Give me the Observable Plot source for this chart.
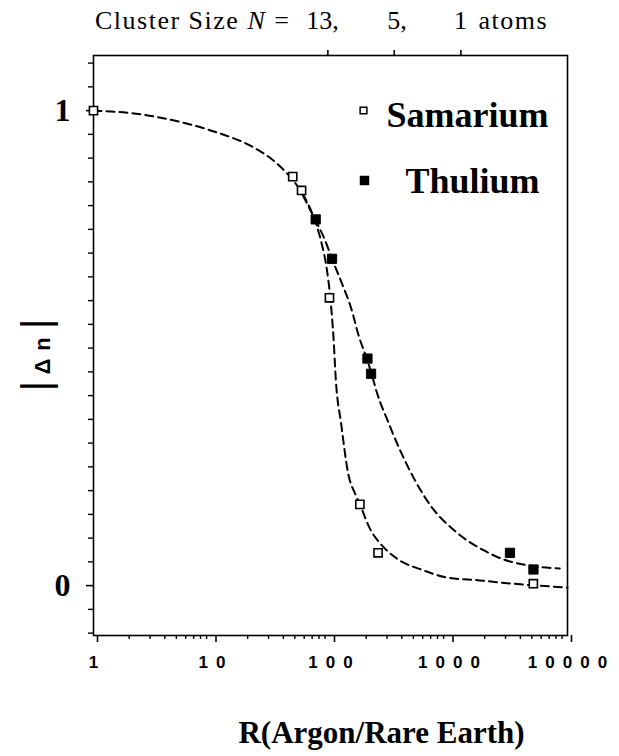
<!DOCTYPE html>
<html><head><meta charset="utf-8">
<script src="https://cdn.jsdelivr.net/npm/d3@7"></script>
<script src="https://cdn.jsdelivr.net/npm/@observablehq/plot@0.6"></script>
<style>
body{margin:0;background:#fff;}
#chart svg g[aria-label="x-axis tick label"] text{letter-spacing:8px;}
</style></head><body><div id="chart"></div>
<script>
// ---- data ----
const seriesNames = ["Samarium", "Thulium"];
const smR  = [1, 48, 57, 98, 177, 252, 5150];
const smDn = [1.0, 0.861, 0.832, 0.606, 0.171, 0.069, 0.004];
const tmR  = [75, 103, 205, 220, 3270, 5160];
const tmDn = [0.771, 0.688, 0.478, 0.446, 0.069, 0.034];
// dashed guide curves
const smFitR  = [1, 2.2, 4.8, 10.4, 22.6, 33, 42.5, 53, 64.5, 75, 85, 93, 99.6, 106, 111, 123, 141, 161, 177, 213, 283, 363, 611, 955, 1810, 3500, 10000];
const smFitDn = [1.0, 0.994, 0.979, 0.956, 0.922, 0.895, 0.869, 0.840, 0.804, 0.764, 0.716, 0.667, 0.606, 0.522, 0.432, 0.341, 0.236, 0.194, 0.171, 0.122, 0.080, 0.057, 0.032, 0.017, 0.011, 0.004, -0.004];
const tmFitR  = [58.7, 75, 88.6, 103, 124, 149, 173, 205, 260, 296, 377, 518, 701, 1109, 1974, 2900, 4800, 8600];
const tmFitDn = [0.821, 0.768, 0.731, 0.688, 0.638, 0.585, 0.526, 0.474, 0.389, 0.354, 0.291, 0.221, 0.168, 0.116, 0.074, 0.055, 0.042, 0.036];
// axes
const xMajorTicks = [1, 10, 100, 1000, 10000];
const xMinorTicks = [2,3,4,5,6,7,8,9, 20,30,40,50,60,70,80,90, 200,300,400,500,600,700,800,900, 2000,3000,4000,5000,6000,7000,8000,9000];
const yMajorTicks = [0, 1];
const yMinorTicks = [-0.1,-0.05,0.05,0.1,0.15,0.2,0.25,0.3,0.35,0.4,0.45,0.5,0.55,0.6,0.65,0.7,0.75,0.8,0.85,0.9,0.95,1.05,1.1];
const clusterR = [95, 345, 1260];
const clusterLabels = ["13,", "5,", "1"];
const clusterUnit = "atoms";
const xTitle = "R(Argon/Rare Earth)";

const smPts = smR.map((r, i) => ({r, dn: smDn[i]}));
const tmPts = tmR.map((r, i) => ({r, dn: tmDn[i]}));
const smFit = smFitR.map((r, i) => ({r, dn: smFitDn[i]}));
const tmFit = tmFitR.map((r, i) => ({r, dn: tmFitDn[i]}));

const serif = "Liberation Serif, Times New Roman, serif";
const sans = "Liberation Sans, Arial, sans-serif";

const plot = Plot.plot({
  width: 619, height: 756,
  marginLeft: 93, marginRight: 52, marginTop: 55, marginBottom: 121,
  style: {background: "white", color: "black", overflow: "visible"},
  x: {type: "log", domain: [1, 10000], label: null},
  y: {domain: [-0.105, 1.116], label: null},
  marks: [
    Plot.frame({stroke: "black", strokeWidth: 1.6}),
    Plot.axisX({anchor: "bottom", ticks: xMinorTicks, tickSize: 4, tickFormat: () => "", strokeWidth: 1.4, label: null}),
    Plot.axisX({anchor: "bottom", ticks: xMajorTicks, tickSize: 7, tickPadding: 13, tickFormat: d => String(d),
      fontSize: 17, fontWeight: "bold", fontFamily: sans, dx: 4, strokeWidth: 1.6, label: null}),
    Plot.axisX({anchor: "top", ticks: clusterR, tickSize: 6, tickFormat: () => "", strokeWidth: 1.6, label: null}),
    Plot.axisY({ticks: yMinorTicks, tickSize: 5, tickFormat: () => "", strokeWidth: 1.4, label: null}),
    Plot.axisY({ticks: yMajorTicks, tickSize: 7, tickPadding: 16, tickFormat: d => String(d),
      fontSize: 32, fontWeight: "bold", fontFamily: serif, strokeWidth: 1.6, label: null}),
    Plot.line(smFit, {x: "r", y: "dn", curve: "monotone-x", stroke: "black", strokeWidth: 2, strokeDasharray: "8,5"}),
    Plot.line(tmFit, {x: "r", y: "dn", curve: "monotone-x", stroke: "black", strokeWidth: 2, strokeDasharray: "8,5"}),
    Plot.dot(smPts, {x: "r", y: "dn", symbol: "square", r: 4.6, fill: "white", stroke: "black", strokeWidth: 1.6}),
    Plot.dot(tmPts, {x: "r", y: "dn", symbol: "square", r: 5.2, fill: "black", stroke: "black", strokeWidth: 1}),
    // legend
    Plot.dot([seriesNames[0]], {frameAnchor: "top-left", dx: 270, dy: 55, symbol: "square", r: 3.8, fill: "white", stroke: "black", strokeWidth: 1.5}),
    Plot.text([seriesNames[0]], {frameAnchor: "top-left", dx: 293, dy: 71, text: d => d, textAnchor: "start", lineAnchor: "bottom",
      fontSize: 36, fontWeight: "bold", fontFamily: serif, fill: "black"}),
    Plot.dot([seriesNames[1]], {frameAnchor: "top-left", dx: 271, dy: 125, symbol: "square", r: 4.5, fill: "black", stroke: "black"}),
    Plot.text([seriesNames[1]], {frameAnchor: "top-left", dx: 312, dy: 137, text: d => d, textAnchor: "start", lineAnchor: "bottom",
      fontSize: 36, fontWeight: "bold", fontFamily: serif, fill: "black"}),
    // x title
    Plot.text([xTitle], {frameAnchor: "bottom", dx: 51, dy: 107, text: d => d, lineAnchor: "bottom",
      fontSize: 31, fontWeight: "bold", fontFamily: serif, fill: "black"})
  ]
});
document.getElementById("chart").appendChild(plot);

// header (cluster sizes) and y title as real SVG text
const svg = d3.select(plot);
const xs = plot.scale("x");
const hdrY = 29, hdrSize = 26;
const h1 = svg.append("text").attr("x", xs.apply(1) + 2).attr("y", hdrY)
  .attr("text-anchor", "start").attr("font-family", serif).attr("font-size", hdrSize)
  .attr("letter-spacing", 1.5).attr("fill", "black").style("white-space", "pre");
h1.append("tspan").text("Cluster Size ");
h1.append("tspan").attr("font-style", "italic").text("N");
h1.append("tspan").text(" =");
const hdrOffsets = [-21, -6.5, -6.5];
clusterLabels.forEach((t, i) => {
  svg.append("text").attr("x", xs.apply(clusterR[i]) + hdrOffsets[i]).attr("y", hdrY)
    .attr("text-anchor", "start").attr("font-family", serif).attr("font-size", hdrSize).attr("fill", "black").text(t);
});
svg.append("text").attr("x", xs.apply(clusterR[2]) + 18).attr("y", hdrY).attr("text-anchor", "start")
  .attr("font-family", serif).attr("font-size", hdrSize).attr("letter-spacing", 1.5).attr("fill", "black").text(clusterUnit);
const yl = svg.append("text").attr("transform", "translate(50,355) rotate(-90)")
  .attr("text-anchor", "middle").attr("font-family", sans).attr("fill", "black").style("white-space", "pre");
yl.append("tspan").attr("font-size", 40).text("|");
yl.append("tspan").attr("font-size", 22).attr("font-weight", "bold").attr("letter-spacing", 1).text(" Δ n ");
yl.append("tspan").attr("font-size", 40).text("|");
</script></body></html>
